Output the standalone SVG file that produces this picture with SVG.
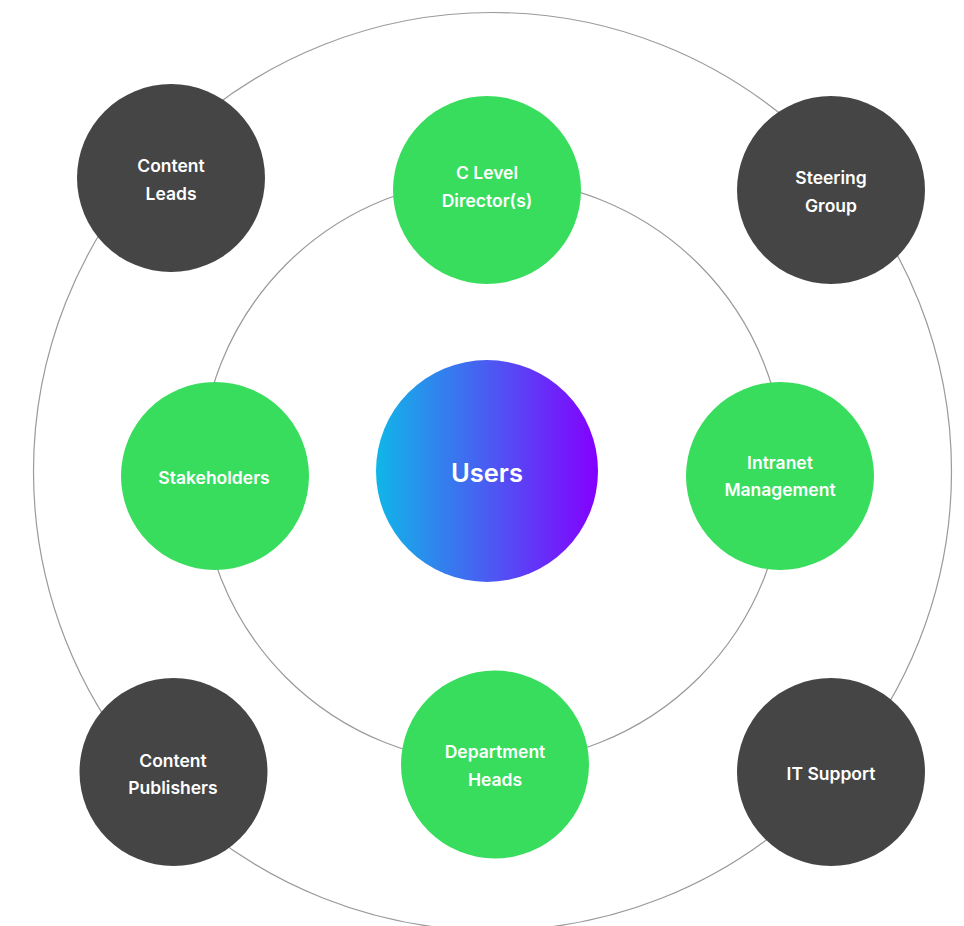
<svg xmlns="http://www.w3.org/2000/svg" width="964" height="926" viewBox="0 0 964 926">
<defs>
<linearGradient id="ug" x1="0" y1="0" x2="1" y2="0">
<stop offset="0" stop-color="#10B6E8"/>
<stop offset="0.5" stop-color="#4A5CF2"/>
<stop offset="1" stop-color="#8400FF"/>
</linearGradient>
<style>
.ring{fill:none;stroke:#9a9a9a;stroke-width:1.2}
.g{fill:#39DD5D}
.d{fill:#454545}
.t{font-family:Inter,Lato,"Noto Sans","Liberation Sans",sans-serif;font-weight:600;font-size:17.5px;fill:#ffffff;text-anchor:middle}
.u{font-size:25.5px}
</style>
</defs>
<rect width="964" height="926" fill="#ffffff"/>
<g id="connectors">
<circle class="ring" cx="492.5" cy="471.5" r="459"/>
<circle class="ring" cx="492.5" cy="471" r="292"/>
</g>
<g id="users">
<circle cx="487" cy="471" r="111" fill="url(#ug)"/>
<text class="t u" x="487" y="482">Users</text>
</g>
<g id="c-level">
<circle class="g" cx="487" cy="190" r="94"/>
<text class="t" x="487" y="179">C Level</text>
<text class="t" x="487" y="207">Director(s)</text>
</g>
<g id="stakeholders">
<circle class="g" cx="215" cy="476" r="94"/>
<text class="t" x="214" y="484">Stakeholders</text>
</g>
<g id="intranet-management">
<circle class="g" cx="780" cy="476" r="94"/>
<text class="t" x="780" y="469">Intranet</text>
<text class="t" x="780" y="496">Management</text>
</g>
<g id="department-heads">
<circle class="g" cx="495" cy="764.5" r="94"/>
<text class="t" x="495" y="758">Department</text>
<text class="t" x="495" y="786">Heads</text>
</g>
<g id="content-leads">
<circle class="d" cx="171" cy="178" r="94"/>
<text class="t" x="171" y="172">Content</text>
<text class="t" x="171" y="200">Leads</text>
</g>
<g id="steering-group">
<circle class="d" cx="831" cy="190" r="94"/>
<text class="t" x="831" y="184">Steering</text>
<text class="t" x="831" y="212">Group</text>
</g>
<g id="content-publishers">
<circle class="d" cx="173.5" cy="772" r="94"/>
<text class="t" x="173" y="767">Content</text>
<text class="t" x="173" y="794">Publishers</text>
</g>
<g id="it-support">
<circle class="d" cx="831" cy="772" r="94"/>
<text class="t" x="831" y="780">IT Support</text>
</g>
</svg>
